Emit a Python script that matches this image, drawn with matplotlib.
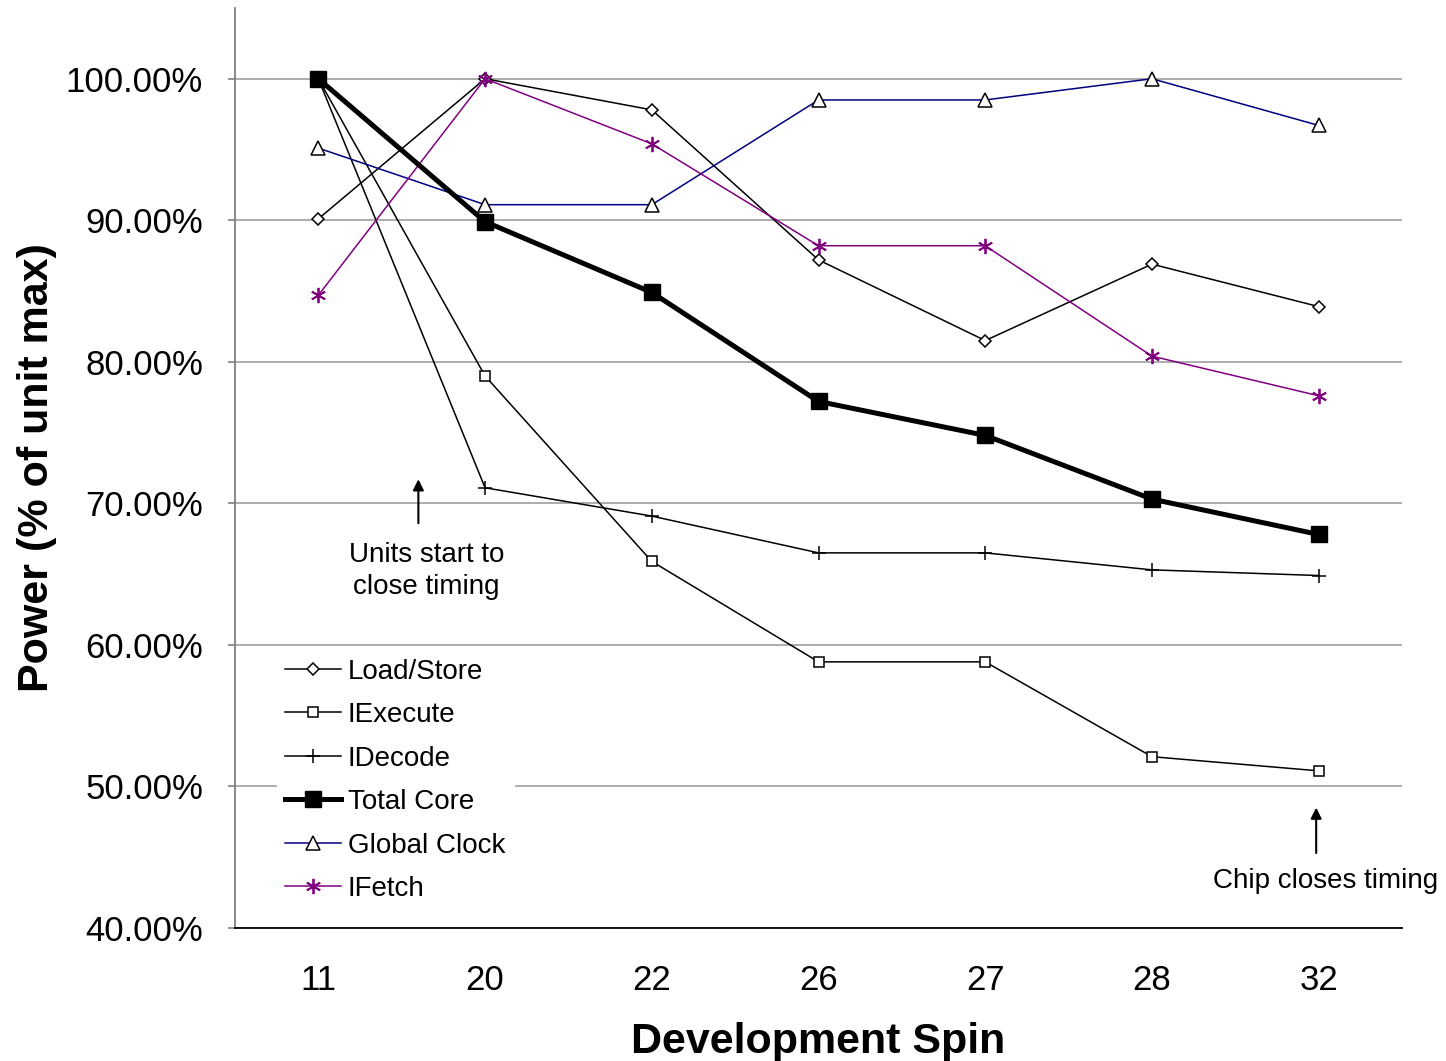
import matplotlib.pyplot as plt

plt.rcParams['font.family'] = ['Liberation Sans', 'DejaVu Sans']

# Data
spins = ['11', '20', '22', '26', '27', '28', '32']
load_store = [90.1, 100.0, 97.8, 87.2, 81.5, 86.9, 83.9]
iexecute = [100.0, 79.0, 65.9, 58.8, 58.8, 52.1, 51.1]
idecode = [100.0, 71.1, 69.1, 66.5, 66.5, 65.3, 64.9]
total_core = [100.0, 89.9, 84.9, 77.2, 74.8, 70.3, 67.8]
global_clock = [95.1, 91.1, 91.1, 98.5, 98.5, 100.0, 96.7]
ifetch = [84.7, 100.0, 95.4, 88.2, 88.2, 80.4, 77.6]

x = list(range(len(spins)))

fig = plt.figure(figsize=(14.46, 10.61), dpi=100)
ax = fig.add_axes([0.1625, 0.1254, 0.8071, 0.8671])

thin = 1.1
ax.plot(x, load_store, color='black', lw=thin, marker='D', ms=6.5,
        mfc='white', mec='black', mew=1.1, label='Load/Store', zorder=3)
ax.plot(x, iexecute, color='black', lw=thin, marker='s', ms=7.5,
        mfc='white', mec='black', mew=1.1, label='IExecute', zorder=3)
ax.plot(x, idecode, color='black', lw=thin, marker='+', ms=10,
        mec='black', mew=1.1, label='IDecode', zorder=3)
ax.plot(x, total_core, color='black', lw=3.6, marker='s', ms=11,
        mfc='black', mec='black', label='Total Core', zorder=4)
ax.plot(x, global_clock, color='#000080', lw=thin, marker='^', ms=9.5,
        mfc='white', mec='black', mew=1.1, label='Global Clock', zorder=3)
ax.plot(x, ifetch, color='#800080', lw=thin, marker=(6, 2, 0), ms=11,
        mec='#800080', mew=1.3, label='IFetch', zorder=3)

ax.set_xlim(-0.5, len(spins) - 0.5)
ax.set_ylim(40, 105)
ax.set_xticks(x)
ax.set_xticklabels(spins)
ax.set_yticks([40, 50, 60, 70, 80, 90, 100])
ax.set_yticklabels(['%.2f%%' % v for v in [40, 50, 60, 70, 80, 90, 100]])

ax.grid(axis='y', color='#a6a6a6', lw=1.3)
ax.set_axisbelow(True)
for s in ['top', 'right']:
    ax.spines[s].set_visible(False)
ax.spines['left'].set_color('#808080')
ax.spines['left'].set_linewidth(1.3)
ax.spines['bottom'].set_color('black')
ax.spines['bottom'].set_linewidth(1.3)

ax.tick_params(axis='y', labelsize=25, length=5, width=1.2, color='#808080',
               pad=18, direction='out')
ax.tick_params(axis='x', labelsize=25, length=0, pad=26)

ax.set_xlabel('Development Spin', fontsize=31, fontweight='bold', labelpad=18)
ax.set_ylabel('Power (% of unit max)', fontsize=31, fontweight='bold', labelpad=6)

# annotations
ax.annotate('', xy=(0.6, 71.9), xytext=(0.6, 68.4),
            arrowprops=dict(arrowstyle='-|>', color='black', lw=1.5,
                            mutation_scale=16))
ax.text(0.65, 65.2, 'Units start to\nclose timing', fontsize=20,
        ha='center', va='center', linespacing=1.3)
ax.annotate('', xy=(5.985, 48.7), xytext=(5.985, 45.1),
            arrowprops=dict(arrowstyle='-|>', color='black', lw=1.5,
                            mutation_scale=16))
ax.text(6.04, 43.3, 'Chip closes timing', fontsize=20,
        ha='center', va='center', clip_on=False)

leg = ax.legend(loc='lower left', bbox_to_anchor=(0.024, 0.004), fontsize=20,
                frameon=True, fancybox=False, edgecolor='white',
                framealpha=1.0, handlelength=2.0, handletextpad=0.25,
                labelspacing=0.63, borderpad=0.3)
leg.set_zorder(5)

fig.savefig('out.png', dpi=100)
